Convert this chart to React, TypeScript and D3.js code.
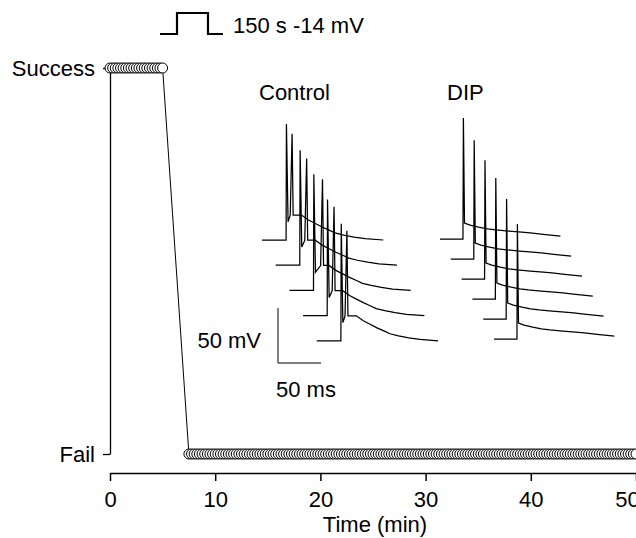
import React, { useEffect, useRef } from 'react';
import * as d3 from 'd3';

const W = 636;
const H = 538;
const FONT = '"Liberation Sans", Arial, Helvetica, sans-serif';
const FS = 22;

// ---------- Main panel data ----------
const xTicks = [0, 10, 20, 30, 40, 50];
const outcomeLabels = ['Fail', 'Success'];
const successTimes = [0, 0.25, 0.5, 0.75, 1, 1.25, 1.5, 1.75, 2, 2.25, 2.5, 2.75, 3, 3.25, 3.5, 3.75, 4, 4.25, 4.5, 4.75, 5];
const failTimes = [
  7.5, 7.75,
  8, 8.25, 8.5, 8.75, 9, 9.25, 9.5, 9.75, 10, 10.25, 10.5, 10.75, 11, 11.25, 11.5, 11.75,
  12, 12.25, 12.5, 12.75, 13, 13.25, 13.5, 13.75, 14, 14.25, 14.5, 14.75, 15, 15.25, 15.5, 15.75,
  16, 16.25, 16.5, 16.75, 17, 17.25, 17.5, 17.75, 18, 18.25, 18.5, 18.75, 19, 19.25, 19.5, 19.75,
  20, 20.25, 20.5, 20.75, 21, 21.25, 21.5, 21.75, 22, 22.25, 22.5, 22.75, 23, 23.25, 23.5, 23.75,
  24, 24.25, 24.5, 24.75, 25, 25.25, 25.5, 25.75, 26, 26.25, 26.5, 26.75, 27, 27.25, 27.5, 27.75,
  28, 28.25, 28.5, 28.75, 29, 29.25, 29.5, 29.75, 30, 30.25, 30.5, 30.75, 31, 31.25, 31.5, 31.75,
  32, 32.25, 32.5, 32.75, 33, 33.25, 33.5, 33.75, 34, 34.25, 34.5, 34.75, 35, 35.25, 35.5, 35.75,
  36, 36.25, 36.5, 36.75, 37, 37.25, 37.5, 37.75, 38, 38.25, 38.5, 38.75, 39, 39.25, 39.5, 39.75,
  40, 40.25, 40.5, 40.75, 41, 41.25, 41.5, 41.75, 42, 42.25, 42.5, 42.75, 43, 43.25, 43.5, 43.75,
  44, 44.25, 44.5, 44.75, 45, 45.25, 45.5, 45.75, 46, 46.25, 46.5, 46.75, 47, 47.25, 47.5, 47.75,
  48, 48.25, 48.5, 48.75, 49, 49.25, 49.5, 49.75, 50,
];

// ---------- Inset trace data (ms, mV) ----------
const REST = -65;
// Control: two spikes then an afterdepolarisation
const controlOnset = 28;
const controlSpike1Peak = [40.5, 39.5, 40.5, 40.5, 41.5];
const controlSpike2Peak = [31.5, 32, 36, 34, 35];
const controlSpike2Delay = [7, 8, 10.5, 8, 7];
const controlTroughV = -48.5;
const controlPreSpike2V = -42.5;
const controlAdpT = [39, 46, 54, 62, 70, 78, 85, 95, 107, 120, 141];
const controlAdpV = [-42.3, -42.3, -46.8, -50, -53.2, -56, -58.6, -60.5, -62.3, -63.8, -65];
// DIP: single spike then decay
const dipOnset = 26.7;
const dipSpikePeak = [45, 43, 43, 45, 44, 39.5];
const dipDecayT = [28.5, 35, 45, 55, 65, 80, 95, 105, 120, 140];
const dipDecayV = [-50.5, -52.4, -54.2, -55.7, -56.7, -57.8, -58.8, -59.5, -60.7, -62.3];

// scale bar values
const barMs = 50;
const barMv = 50;

export default function App() {
  const ref = useRef<SVGSVGElement>(null);

  useEffect(() => {
    const svg = d3.select(ref.current);
    svg.selectAll('*').remove();
    svg.style('font-family', FONT);

    // ---------- main axes ----------
    const x = d3.scaleLinear().domain([0, 50]).range([110, 636]);
    const y = d3.scaleLinear().domain([0, 1]).range([454, 68]);

    const xAxis = svg.append('g').attr('transform', 'translate(0,473)')
      .call(d3.axisBottom(x).tickValues(xTicks).tickSize(8).tickSizeOuter(0).tickPadding(10).tickFormat(d3.format('d')));
    xAxis.select('.domain').attr('stroke', '#000').attr('stroke-width', 1.5);
    xAxis.selectAll('.tick line').attr('stroke', '#000').attr('stroke-width', 1.5);
    xAxis.selectAll('.tick text').attr('font-size', FS).attr('font-family', FONT).attr('fill', '#000')
      .attr('dx', (d: any) => (d === 50 ? -9 : 0));

    const yAxis = svg.append('g').attr('transform', 'translate(110,0)')
      .call(d3.axisLeft(y).tickValues([0, 1]).tickSize(7).tickSizeOuter(0).tickPadding(8)
        .tickFormat((d: any) => outcomeLabels[d as number]));
    yAxis.select('.domain').attr('stroke', '#000').attr('stroke-width', 1.3);
    yAxis.selectAll('.tick line').attr('stroke', '#000').attr('stroke-width', 1.3);
    yAxis.selectAll('.tick text').attr('font-size', FS).attr('font-family', FONT).attr('fill', '#000');

    svg.append('text').attr('x', 375).attr('y', 532).attr('text-anchor', 'middle')
      .attr('font-size', FS).text('Time (min)');

    // ---------- data line and circles ----------
    const pts: [number, number][] = [
      ...successTimes.map((t) => [t, 1] as [number, number]),
      ...failTimes.map((t) => [t, 0] as [number, number]),
    ];
    const line = d3.line<[number, number]>().x((d) => x(d[0])).y((d) => y(d[1]));
    svg.append('path').attr('d', line(pts) as string).attr('fill', 'none').attr('stroke', '#000').attr('stroke-width', 1);
    svg.append('g').selectAll('circle').data(pts).join('circle')
      .attr('cx', (d) => x(d[0])).attr('cy', (d) => y(d[1])).attr('r', 5)
      .attr('fill', '#fff').attr('stroke', '#000').attr('stroke-width', 1);

    // ---------- step protocol icon ----------
    svg.append('polyline').attr('points', '160,34 177,34 177,13 208,13 208,34 223,34')
      .attr('fill', 'none').attr('stroke', '#000').attr('stroke-width', 2.2);
    svg.append('text').attr('x', 233).attr('y', 33).attr('font-size', FS).text('150 s -14 mV');

    // ---------- traces ----------
    const pxPerMs = 43 / 50;
    const pxPerMv = 55 / 50;
    const traceLine = (gx: number, gy: number, data: [number, number][]) => {
      const tx = d3.scaleLinear().domain([0, 50]).range([gx, gx + 50 * pxPerMs]);
      const vy = d3.scaleLinear().domain([REST, REST + 50]).range([gy, gy - 50 * pxPerMv]);
      return d3.line<[number, number]>().x((d) => tx(d[0])).y((d) => vy(d[1]))(data) as string;
    };
    const tg = svg.append('g').attr('fill', 'none').attr('stroke', '#000').attr('stroke-width', 1.25);

    controlSpike1Peak.forEach((p1, i) => {
      const on = controlOnset;
      const d2 = controlSpike2Delay[i];
      const data: [number, number][] = [
        [0, REST], [on, REST], [on + 0.4, p1], [on + 2.3, controlTroughV],
        [on + d2 - 2.2, controlPreSpike2V], [on + d2, controlSpike2Peak[i]], [on + d2 + 1.2, controlAdpV[0]],
      ];
      controlAdpT.forEach((t, k) => { if (t > on + d2 + 1.2) data.push([t, controlAdpV[k]]); });
      tg.append('path').attr('d', traceLine(262 + i * 13.7, 240 + i * 25.2, data));
    });

    dipSpikePeak.forEach((p, i) => {
      const data: [number, number][] = [[0, REST], [dipOnset, REST], [dipOnset + 0.5, p]];
      dipDecayT.forEach((t, k) => data.push([t, dipDecayV[k]]));
      tg.append('path').attr('d', traceLine(440 + i * 10.8, 239 + i * 20, data));
    });

    svg.append('text').attr('x', 259).attr('y', 100).attr('font-size', FS).text('Control');
    svg.append('text').attr('x', 447).attr('y', 100).attr('font-size', FS).text('DIP');

    // ---------- scale bar ----------
    const bx = 278, by = 363;
    svg.append('path')
      .attr('d', `M${bx},${by - barMv * pxPerMv}V${by}H${bx + barMs * pxPerMs}`)
      .attr('fill', 'none').attr('stroke', '#000').attr('stroke-width', 1);
    svg.append('text').attr('x', 261).attr('y', 348).attr('text-anchor', 'end').attr('font-size', FS).text(`${barMv} mV`);
    svg.append('text').attr('x', 276).attr('y', 397).attr('font-size', FS).text(`${barMs} ms`);
  }, []);

  return (
    <div style={{ position: 'absolute', left: 0, top: 0, background: '#fff' }}>
      <svg ref={ref} width={W} height={H} style={{ display: 'block' }} />
    </div>
  );
}
